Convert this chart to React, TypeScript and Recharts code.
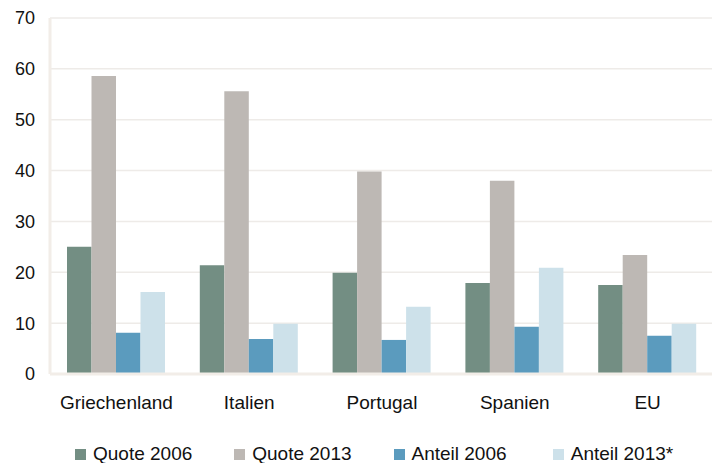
import React from "react";
import { BarChart, Bar, XAxis, YAxis, CartesianGrid, Legend } from "recharts";

const categories = ["Griechenland", "Italien", "Portugal", "Spanien", "EU"];
const quote2006 = [25.0, 21.4, 19.9, 17.9, 17.5];
const quote2013 = [58.6, 55.6, 39.8, 38.0, 23.4];
const anteil2006 = [8.1, 6.9, 6.7, 9.3, 7.5];
const anteil2013 = [16.1, 9.9, 13.2, 20.9, 9.9];
const yTicks = [0, 10, 20, 30, 40, 50, 60, 70];

const seriesNames = ["Quote 2006", "Quote 2013", "Anteil 2006", "Anteil 2013*"];
const seriesKeys = ["q06", "q13", "a06", "a13"];
const seriesColors = ["#738e83", "#bdb8b4", "#5b9bbe", "#cde1ea"];

const data = categories.map((c, i) => ({
  name: c,
  q06: quote2006[i],
  q13: quote2013[i],
  a06: anteil2006[i],
  a13: anteil2013[i],
}));

const FONT = '"Liberation Sans", Arial, sans-serif';

const LegendContent = () => (
  <div
    style={{
      height: 45,
      paddingTop: 26,
      paddingLeft: 75,
      boxSizing: "border-box",
      display: "flex",
      fontFamily: FONT,
      fontSize: 19,
      lineHeight: "19px",
      color: "#111",
    }}
  >
    {seriesNames.map((n, i) => (
      <div key={n} style={{ position: "relative", width: 160, height: 19 }}>
        <div
          style={{
            position: "absolute",
            left: 0,
            top: 5,
            width: 11,
            height: 11,
            background: seriesColors[i],
          }}
        />
        <span style={{ position: "absolute", left: 18, top: 0, whiteSpace: "nowrap" }}>{n}</span>
      </div>
    ))}
  </div>
);

export default function App() {
  return (
    <div style={{ position: "absolute", left: 0, top: 0, width: 712, height: 463, background: "#fff", overflow: "hidden" }}>
      <BarChart
        width={714}
        height={463}
        data={data}
        margin={{ top: 18, right: 0, left: 0, bottom: 0 }}
        barGap={0}
        barSize={24.5}
      >
        <CartesianGrid vertical={false} stroke="#eeebe8" strokeWidth={1.5} />
        <XAxis
          dataKey="name"
          height={44}
          tickLine={false}
          tickSize={0}
          tickMargin={22}
          axisLine={{ stroke: "#f2ede8", strokeWidth: 3 }}
          tick={{ fontFamily: FONT, fontSize: 19, fill: "#111" }}
        />
        <YAxis
          width={50}
          domain={[0, 70]}
          ticks={yTicks}
          interval={0}
          tickLine={false}
          tickSize={0}
          tickMargin={15}
          axisLine={{ stroke: "#f2ede8", strokeWidth: 3 }}
          tick={{ fontFamily: FONT, fontSize: 18, fill: "#111" }}
        />
        <Legend verticalAlign="bottom" content={<LegendContent />} wrapperStyle={{ left: 0, width: 712 }} />
        {seriesKeys.map((k, i) => (
          <Bar key={k} dataKey={k} name={seriesNames[i]} fill={seriesColors[i]} isAnimationActive={false} />
        ))}
      </BarChart>
    </div>
  );
}
